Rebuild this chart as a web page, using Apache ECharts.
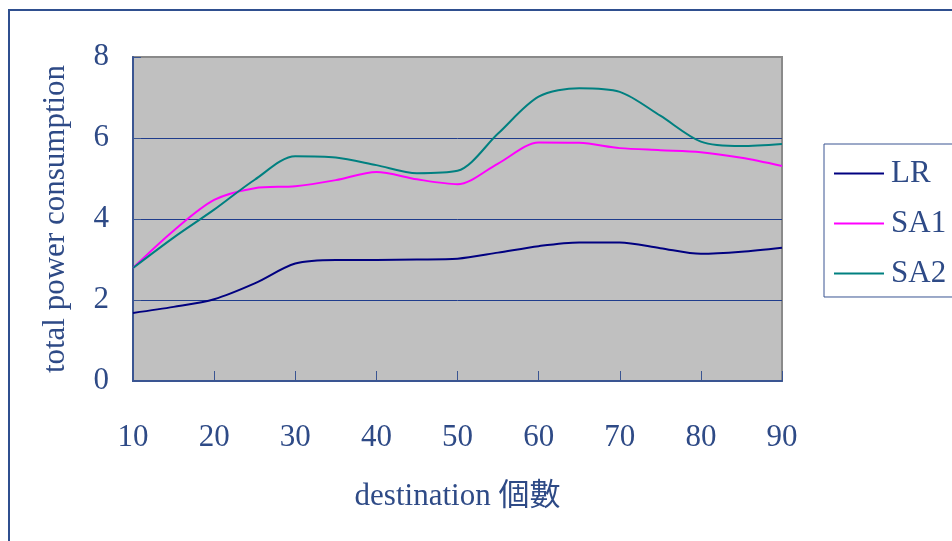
<!DOCTYPE html>
<html>
<head>
<meta charset="utf-8">
<script src="https://cdn.jsdelivr.net/npm/echarts@6/dist/echarts.min.js"></script>
<style>
  html, body { margin: 0; padding: 0; background: #ffffff; }
  #chart { width: 952px; height: 541px; }
</style>
</head>
<body>
<div id="chart"></div>
<script>
// number of destinations (x positions of the samples)
const destinations = [10, 15, 20, 25, 30, 35, 40, 45, 50, 55, 60, 65, 70, 75, 80, 85, 90];
// total power consumption per method
const lrValues  = [1.68, 1.83, 2.02, 2.41, 2.90, 2.99, 2.99, 3.00, 3.02, 3.17, 3.33, 3.42, 3.42, 3.28, 3.14, 3.19, 3.29];
const sa1Values = [2.79, 3.71, 4.47, 4.76, 4.81, 4.96, 5.16, 4.98, 4.86, 5.37, 5.89, 5.88, 5.75, 5.70, 5.65, 5.51, 5.31];
const sa2Values = [2.79, 3.54, 4.23, 4.97, 5.55, 5.52, 5.33, 5.13, 5.19, 6.11, 7.02, 7.23, 7.14, 6.55, 5.91, 5.80, 5.85];
const xTicks = [10, 20, 30, 40, 50, 60, 70, 80, 90];
const yTicks = [0, 2, 4, 6, 8];

const seriesNames = ['LR', 'SA1', 'SA2'];
const seriesColors = ['#000080', '#FF00FF', '#008080'];
const seriesValues = [lrValues, sa1Values, sa2Values];

const textColor = '#2E4A86';
const fontFamily = '"Liberation Serif", "Noto Sans CJK TC", serif';

const chart = echarts.init(document.getElementById('chart'), null, { renderer: 'canvas' });

const pairs = vals => destinations.map((d, i) => [d, vals[i]]);

chart.setOption({
  animation: false,
  backgroundColor: '#ffffff',
  grid: {
    left: 133, right: 170, top: 57, bottom: 160,
    show: true,
    backgroundColor: '#C0C0C0',
    borderColor: '#8A8A8A',
    borderWidth: 2
  },
  xAxis: {
    type: 'value',
    min: xTicks[0],
    max: xTicks[xTicks.length - 1],
    interval: 10,
    axisLine: { show: true, onZero: false, lineStyle: { color: '#3A5592', width: 2 } },
    axisTick: { show: true, inside: true, length: 10, lineStyle: { color: '#3A5592', width: 1 } },
    splitLine: { show: false },
    axisLabel: {
      margin: 41,
      color: textColor,
      fontFamily: fontFamily,
      fontSize: 31,
      formatter: v => xTicks.includes(v) ? String(v) : ''
    },
    name: 'destination 個數',
    nameLocation: 'middle',
    nameGap: 100,
    nameTextStyle: { color: textColor, fontFamily: fontFamily, fontSize: 31 }
  },
  yAxis: {
    type: 'value',
    min: yTicks[0],
    max: yTicks[yTicks.length - 1],
    interval: 2,
    axisLine: { show: true, lineStyle: { color: '#3A5592', width: 2 } },
    axisTick: { show: true, inside: true, length: 8, lineStyle: { color: '#3A5592', width: 1 } },
    splitLine: {
      show: true,
      lineStyle: { color: ['#3A5592', '#1F3C8C', '#1F3C8C', '#1F3C8C', '#8A8A8A'], width: 1 }
    },
    axisLabel: {
      margin: 24,
      color: textColor,
      fontFamily: fontFamily,
      fontSize: 31
    },
    name: 'total power consumption',
    nameLocation: 'middle',
    nameGap: 62,
    nameTextStyle: { color: textColor, fontFamily: fontFamily, fontSize: 31 }
  },
  legend: {
    orient: 'vertical',
    left: 824,
    top: 144,
    width: 128,
    padding: [14, 10, 8, 10],
    itemGap: 19,
    itemWidth: 50,
    itemHeight: 10,
    borderColor: '#3A5592',
    borderWidth: 1,
    backgroundColor: '#ffffff',
    icon: 'path://M0,4 L50,4 L50,6 L0,6 Z',
    textStyle: { color: textColor, fontFamily: fontFamily, fontSize: 31, padding: [0, 0, 0, 2] },
    data: seriesNames
  },
  graphic: [
    {
      type: 'rect',
      shape: { x: 9, y: 10, width: 980, height: 600 },
      style: { fill: 'none', stroke: '#2F4F8F', lineWidth: 2 },
      silent: true,
      z: 100
    }
  ],
  series: seriesNames.map((name, i) => ({
    name: name,
    type: 'line',
    data: pairs(seriesValues[i]),
    smooth: 0.3,
    showSymbol: false,
    symbol: 'none',
    lineStyle: { color: seriesColors[i], width: 2 },
    itemStyle: { color: seriesColors[i] }
  }))
});
</script>
</body>
</html>
